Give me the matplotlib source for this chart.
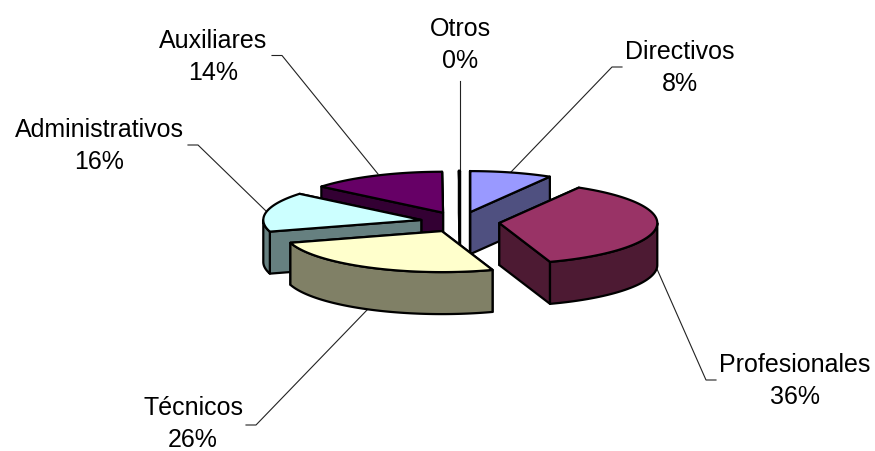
import numpy as np
import matplotlib
matplotlib.use("Agg")
import matplotlib.pyplot as plt
from matplotlib.patches import Polygon

# data, clockwise from 12 o'clock
categories = ["Directivos", "Profesionales", "Técnicos", "Administrativos", "Auxiliares", "Otros"]
values = [8.4, 36.4, 25.6, 15.6, 13.9, 0.1]
top_colors = ["#9999FF", "#993366", "#FFFFCC", "#CCFFFF", "#660066", "#000000"]
wall_colors = ["#4F5080", "#4D1A33", "#808066", "#668080", "#330033", "#000000"]

# label centres and leader lines, in pixels
label_xy = [(680, 68), (795, 381), (193, 424), (99, 146), (213, 57), (460, 45)]
leaders = [
    [(622, 68), (612, 68), (511, 173)],
    [(716, 381), (706, 381), (657, 270)],
    [(246, 426), (256, 426), (368, 310)],
    [(188, 146), (198, 146), (266, 212)],
    [(272, 56.5), (282, 56.5), (378, 175)],
    [(459.5, 82), (459.5, 172)],
]

# pie projection
CX, CY = 460, 223
RX, RY = 158, 41
DEPTH = 42
EXPLODE = 0.25
# back slices first so the front ones cover them
draw_order = [5, 4, 0, 3, 1, 2]


def ring(theta, ox, oy, dz=0):
    return np.column_stack([ox + RX * np.sin(theta), oy - RY * np.cos(theta) + dz])


fig = plt.figure(figsize=(8.75, 4.52), dpi=100)
ax = fig.add_axes([0, 0, 1, 1])
ax.set_xlim(0, 875)
ax.set_ylim(452, 0)
ax.axis("off")

edges = np.cumsum([0] + values) / sum(values) * 2 * np.pi

for path in leaders:
    xs, ys = zip(*path)
    ax.plot(xs, ys, color="#222222", lw=0.8, zorder=1)

z = 2
for i in draw_order:
    a0, a1 = edges[i], edges[i + 1]
    mid = (a0 + a1) / 2
    ox = CX + EXPLODE * RX * np.sin(mid)
    oy = CY - EXPLODE * RY * np.cos(mid)
    theta = np.linspace(a0, a1, 80)
    top = ring(theta, ox, oy)
    apex = np.array([ox, oy])
    down = np.array([0, DEPTH])

    # radial walls, the one further back goes first
    for a in sorted((a0, a1), key=lambda v: -np.cos(v)):
        p = ring(np.array([a]), ox, oy)[0]
        wall = [apex, p, p + down, apex + down]
        ax.add_patch(Polygon(wall, fc=wall_colors[i], ec="black", lw=1.6, joinstyle="round", zorder=z))
        z += 1

    # outer wall, only the front half of the rim shows
    lo, hi = max(a0, np.pi / 2), min(a1, 3 * np.pi / 2)
    if hi > lo:
        t = np.linspace(lo, hi, 80)
        upper = ring(t, ox, oy)
        lower = ring(t[::-1], ox, oy, DEPTH)
        ax.add_patch(Polygon(np.vstack([upper, lower]), fc=wall_colors[i], ec="black", lw=1.6,
                             joinstyle="round", zorder=z))
        z += 1

    ax.add_patch(Polygon(np.vstack([apex, top]), fc=top_colors[i], ec="black", lw=1.6,
                         joinstyle="round", zorder=z))
    z += 1

for name, val, (x, y) in zip(categories, values, label_xy):
    ax.text(x, y, f"{name}\n{round(val)}%", ha="center", va="center", multialignment="center",
            fontsize=18, family="Liberation Sans", color="black", linespacing=1.44, zorder=z)

plt.savefig("out.png", dpi=100)
plt.close()
